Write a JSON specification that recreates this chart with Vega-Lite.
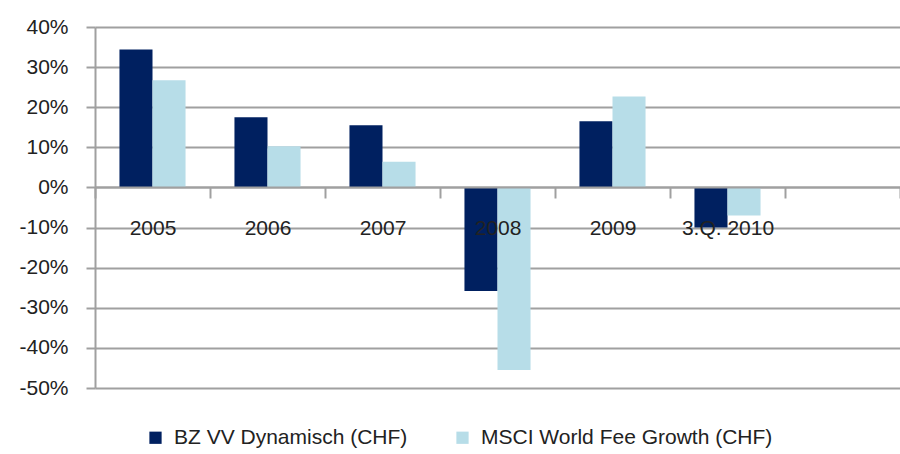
{
  "$schema": "https://vega.github.io/schema/vega-lite/v6.json",
  "width": 805,
  "height": 361,
  "padding": {"left": 95, "top": 27, "right": 0, "bottom": 66},
  "autosize": {"type": "none"},
  "background": "white",
  "config": {"view": {"stroke": null}, "font": "Liberation Sans"},
  "data": {
    "values": [
      {"period": "2005", "series": "BZ VV Dynamisch (CHF)", "value": 34.4},
      {"period": "2005", "series": "MSCI World Fee Growth (CHF)", "value": 26.7},
      {"period": "2006", "series": "BZ VV Dynamisch (CHF)", "value": 17.5},
      {"period": "2006", "series": "MSCI World Fee Growth (CHF)", "value": 10.3},
      {"period": "2007", "series": "BZ VV Dynamisch (CHF)", "value": 15.5},
      {"period": "2007", "series": "MSCI World Fee Growth (CHF)", "value": 6.4},
      {"period": "2008", "series": "BZ VV Dynamisch (CHF)", "value": -25.8},
      {"period": "2008", "series": "MSCI World Fee Growth (CHF)", "value": -45.5},
      {"period": "2009", "series": "BZ VV Dynamisch (CHF)", "value": 16.5},
      {"period": "2009", "series": "MSCI World Fee Growth (CHF)", "value": 22.7},
      {"period": "3.Q. 2010", "series": "BZ VV Dynamisch (CHF)", "value": -10.0},
      {"period": "3.Q. 2010", "series": "MSCI World Fee Growth (CHF)", "value": -7.0}
    ]
  },
  "mark": {"type": "bar"},
  "encoding": {
    "x": {
      "field": "period",
      "type": "nominal",
      "sort": null,
      "scale": {
        "domain": ["2005", "2006", "2007", "2008", "2009", "3.Q. 2010", ""],
        "paddingInner": 0,
        "paddingOuter": 0
      },
      "axis": {
        "orient": "bottom",
        "offset": -201,
        "title": null,
        "labelAngle": 0,
        "tickBand": "extent",
        "domainColor": "#a0a0a0",
        "domainWidth": 2,
        "tickColor": "#a0a0a0",
        "tickWidth": 2,
        "tickSize": 11,
        "labelFontSize": 21,
        "labelColor": "#222222",
        "labelPadding": 19,
        "grid": false,
        "zindex": 1
      }
    },
    "xOffset": {
      "field": "series",
      "type": "nominal",
      "sort": ["BZ VV Dynamisch (CHF)", "MSCI World Fee Growth (CHF)"],
      "scale": {"paddingInner": 0, "paddingOuter": 0.74}
    },
    "y": {
      "field": "value",
      "type": "quantitative",
      "scale": {"domain": [-50, 40], "nice": false},
      "axis": {
        "title": null,
        "values": [-50, -40, -30, -20, -10, 0, 10, 20, 30, 40],
        "labelExpr": "datum.value + '%'",
        "grid": true,
        "gridColor": "#a0a0a0",
        "gridWidth": 2,
        "domainColor": "#a0a0a0",
        "domainWidth": 2,
        "tickColor": "#a0a0a0",
        "tickWidth": 2,
        "tickSize": 9,
        "labelPadding": 18,
        "labelFontSize": 21,
        "labelColor": "#222222"
      }
    },
    "color": {
      "field": "series",
      "type": "nominal",
      "scale": {
        "domain": ["BZ VV Dynamisch (CHF)", "MSCI World Fee Growth (CHF)"],
        "range": ["#002060", "#B7DDE8"]
      },
      "legend": {
        "title": null,
        "orient": "none",
        "legendX": 50,
        "legendY": 400,
        "direction": "horizontal",
        "symbolType": "square",
        "symbolSize": 150,
        "symbolStrokeWidth": 0,
        "labelFontSize": 21,
        "labelColor": "#222222",
        "columnPadding": 44,
        "labelOffset": 8,
        "labelLimit": 400
      }
    }
  }
}
